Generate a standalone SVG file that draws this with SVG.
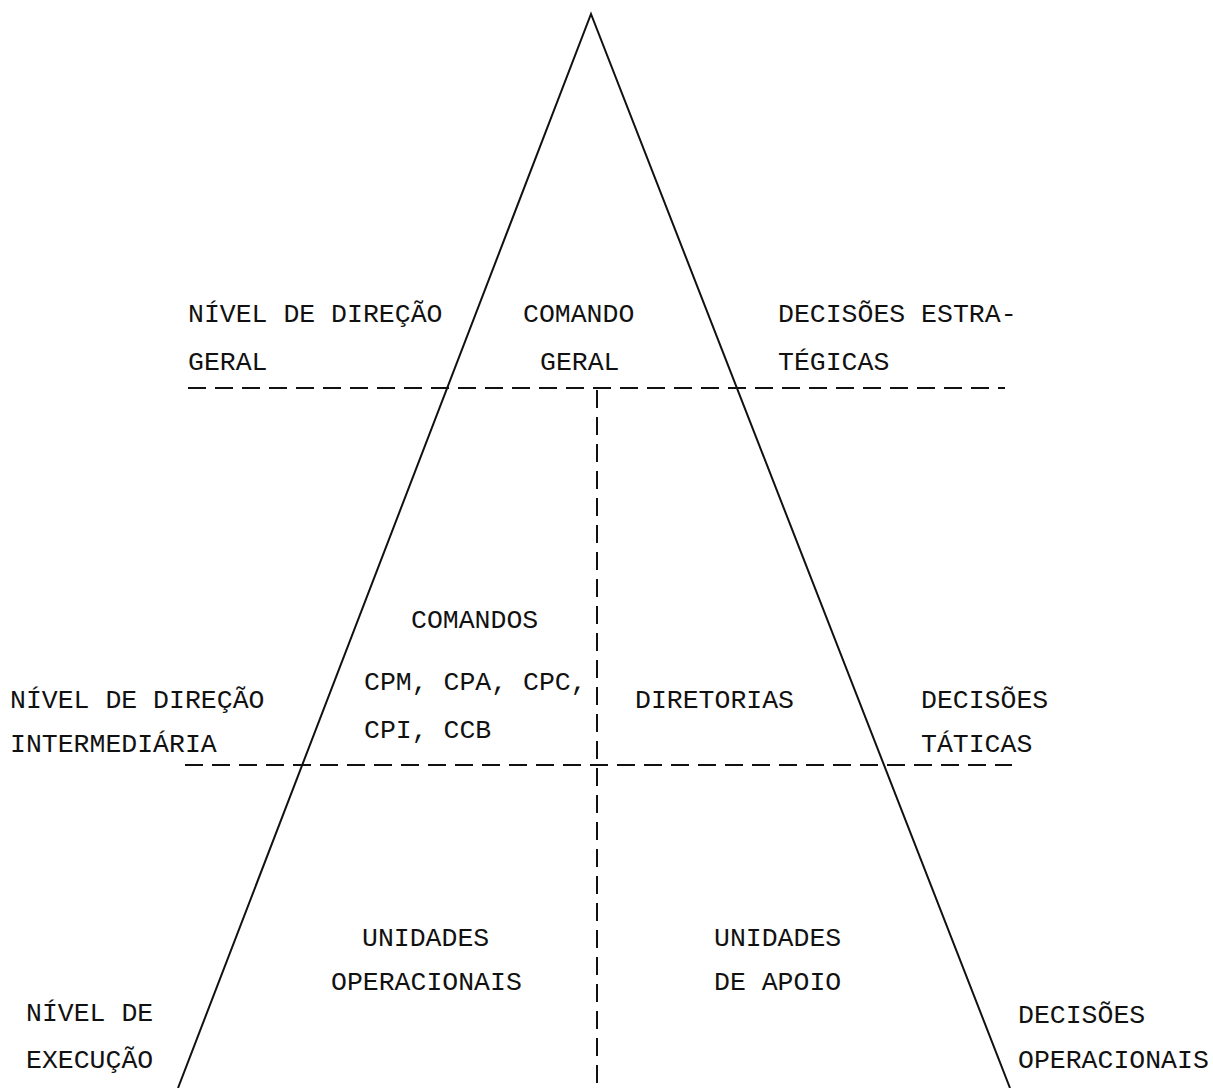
<svg xmlns="http://www.w3.org/2000/svg" width="1213" height="1088" viewBox="0 0 1213 1088">
<style>
text{font-family:"Liberation Mono","DejaVu Sans Mono",monospace;font-size:26.5px;fill:#111}
.solid{stroke:#111;stroke-width:2;fill:none}
.dash{stroke:#111;stroke-width:2;fill:none;stroke-dasharray:18 9}
</style>
<rect width="1213" height="1088" fill="#fff"/>
<g id="connectors">
<polyline class="solid" points="178,1088 591,14 1010,1088"/>
<line class="dash" x1="188" y1="388" x2="1005" y2="388"/>
<line class="dash" x1="185" y1="765" x2="1012" y2="765"/>
<line class="dash" x1="597" y1="390" x2="597" y2="1088"/>
</g>
<g id="label-nivel-direcao-geral"><text x="188" y="322">NÍVEL DE DIREÇÃO</text><text x="188" y="370">GERAL</text></g>
<g id="node-comando-geral"><text x="523" y="322">COMANDO</text><text x="540" y="370">GERAL</text></g>
<g id="label-decisoes-estrategicas"><text x="778" y="322">DECISÕES ESTRA-</text><text x="778" y="370">TÉGICAS</text></g>
<g id="node-comandos"><text x="411" y="628">COMANDOS</text><text x="364" y="690">CPM, CPA, CPC,</text><text x="364" y="738">CPI, CCB</text></g>
<g id="node-diretorias"><text x="635" y="708">DIRETORIAS</text></g>
<g id="label-nivel-direcao-intermediaria"><text x="10" y="708">NÍVEL DE DIREÇÃO</text><text x="10" y="752">INTERMEDIÁRIA</text></g>
<g id="label-decisoes-taticas"><text x="921" y="708">DECISÕES</text><text x="921" y="752">TÁTICAS</text></g>
<g id="node-unidades-operacionais"><text x="362" y="946">UNIDADES</text><text x="331" y="990">OPERACIONAIS</text></g>
<g id="node-unidades-apoio"><text x="714" y="946">UNIDADES</text><text x="714" y="990">DE APOIO</text></g>
<g id="label-nivel-execucao"><text x="26" y="1021">NÍVEL DE</text><text x="26" y="1068">EXECUÇÃO</text></g>
<g id="label-decisoes-operacionais"><text x="1018" y="1023">DECISÕES</text><text x="1018" y="1068">OPERACIONAIS</text></g>
</svg>
